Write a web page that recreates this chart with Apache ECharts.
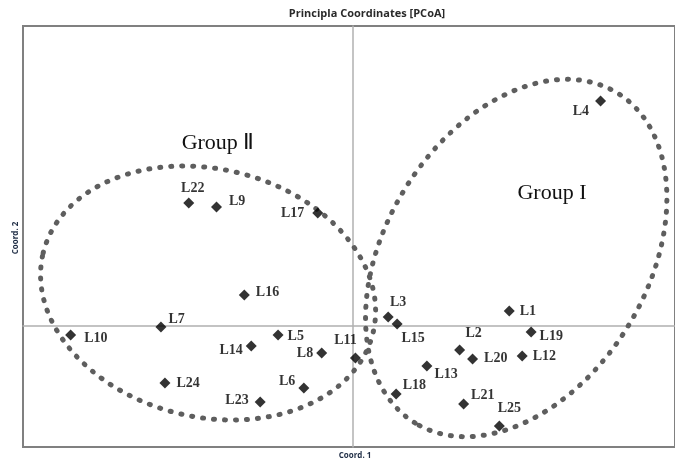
<!DOCTYPE html>
<html>
<head>
<meta charset="utf-8">
<script src="https://cdn.jsdelivr.net/npm/echarts@6/dist/echarts.min.js"></script>
<style>html,body{margin:0;padding:0;background:#fff;}#c{width:675px;height:464px;}</style>
</head>
<body>
<div id="c"></div>
<script>
// ---- data ----
const categories = ['L1','L2','L3','L4','L5','L6','L7','L8','L9','L10','L11','L12','L13',
  'L14','L15','L16','L17','L18','L19','L20','L21','L22','L23','L24','L25'];
const coord1 = [1.58, 1.08, 0.36, 2.50, -0.75, -0.49, -1.93, -0.31, -1.37, -2.84, 0.03, 1.71, 0.75,
  -1.02, 0.45, -1.09, -0.35, 0.44, 1.80, 1.21, 1.12, -1.65, -0.93, -1.89, 1.48];
const coord2 = [0.15, -0.24, 0.09, 2.25, -0.09, -0.62, -0.01, -0.27, 1.19, -0.09, -0.32, -0.30, -0.40,
  -0.20, 0.02, 0.31, 1.13, -0.68, -0.06, -0.33, -0.78, 1.23, -0.76, -0.57, -1.00];
// group ellipses: name, centre x, centre y, semi-axis 1, semi-axis 2, angle (deg)
const groupNames = ['Group Ⅱ', 'Group I'];
const groupCx = [-1.455, 1.65];
const groupCy = [0.33, 0.68];
const groupRx = [1.71, 1.95];
const groupRy = [1.24, 1.31];
const groupAngle = [-13.6, 58.5];

// ---- label placement (style) ----
const labelPlace = {
  L1:['right',5,[0,0]], L2:['top',4,[14,0]], L3:['top',2,[10,0]], L4:['left',6,[0,10]],
  L5:['right',4,[0,1]], L6:['left',3,[0,-7]], L7:['right',2,[0,-8]], L8:['left',3,[0,0]],
  L9:['right',7,[0,-6]], L10:['right',8,[0,3]], L11:['top',5,[-10,0]], L12:['right',5,[0,0]],
  L13:['right',2,[0,8]], L14:['left',3,[0,4]], L15:['bottom',2,[16,0]], L16:['right',6,[0,-3]],
  L17:['left',8,[0,0]], L18:['right',1,[0,-9]], L19:['right',3,[0,4]], L20:['right',6,[0,-1]],
  L21:['right',2,[0,-9]], L22:['top',2,[4,0]], L23:['left',6,[0,-2]], L24:['right',6,[0,0]],
  L25:['top',5,[10,0]]
};

const pointData = categories.map((n, i) => {
  const p = labelPlace[n];
  return {
    name: n,
    value: [coord1[i], coord2[i]],
    label: { position: p[0], distance: p[1], offset: p[2] }
  };
});
const ellipseData = groupNames.map((g, i) => [groupCx[i], groupCy[i], groupRx[i], groupRy[i], groupAngle[i]]);

const chart = echarts.init(document.getElementById('c'), null, { renderer: 'canvas' });
chart.setOption({
  animation: false,
  backgroundColor: '#ffffff',
  title: {
    text: 'Principla Coordinates [PCoA]',
    left: 362, top: 3, textAlign: 'center',
    textStyle: { fontFamily: 'Open Sans', fontSize: 11, fontWeight: 'bold', color: '#2a2a2a' }
  },
  grid: {
    left: 23, top: 26, right: -5, bottom: 17,
    show: true, borderColor: '#808080', borderWidth: 2, backgroundColor: 'transparent'
  },
  xAxis: {
    type: 'value', min: -3.32, max: 3.25,
    axisLine: { show: true, onZero: true, lineStyle: { color: '#b0b0b0', width: 1.5 } },
    axisTick: { show: false }, axisLabel: { show: false }, splitLine: { show: false }
  },
  yAxis: {
    type: 'value', min: -1.21, max: 3.00,
    axisLine: { show: true, onZero: true, lineStyle: { color: '#b0b0b0', width: 1.5 } },
    axisTick: { show: false }, axisLabel: { show: false }, splitLine: { show: false }
  },
  graphic: [
    { type: 'text', x: 355, y: 456, style: { text: 'Coord. 1', fontFamily: 'Open Sans', fontSize: 8, fontWeight: 'bold', fill: '#1f2d45', textAlign: 'center', textVerticalAlign: 'middle' } },
    { type: 'text', x: 16, y: 238, rotation: Math.PI / 2, style: { text: 'Coord. 2', fontFamily: 'Open Sans', fontSize: 8, fontWeight: 'bold', fill: '#1f2d45', textAlign: 'center', textVerticalAlign: 'middle' } },
    { type: 'text', x: 218, y: 143, style: { text: groupNames[0], fontFamily: 'Liberation Serif', fontSize: 22, fill: '#111111', textAlign: 'center', textVerticalAlign: 'middle' } },
    { type: 'text', x: 552, y: 193, style: { text: groupNames[1], fontFamily: 'Liberation Serif', fontSize: 22, fill: '#111111', textAlign: 'center', textVerticalAlign: 'middle' } }
  ],
  series: [
    {
      type: 'custom',
      z: 1,
      silent: true,
      data: ellipseData,
      renderItem: function (params, api) {
        const c = api.coord([api.value(0), api.value(1)]);
        const s = api.size([api.value(2), api.value(3)]);
        return {
          type: 'ellipse',
          x: c[0], y: c[1],
          rotation: api.value(4) * Math.PI / 180,
          shape: { cx: 0, cy: 0, rx: s[0], ry: s[1] },
          style: { fill: 'none', stroke: '#5e5e5e', lineWidth: 5, lineDash: [1, 10], lineCap: 'round' }
        };
      }
    },
    {
      type: 'scatter',
      z: 3,
      symbol: 'diamond',
      symbolSize: 11,
      itemStyle: { color: '#000000' },
      label: {
        show: true,
        formatter: '{b}',
        fontFamily: 'Liberation Serif',
        fontWeight: 'bold',
        fontSize: 14,
        color: '#000000'
      },
      data: pointData
    }
  ]
});
</script>
</body>
</html>
